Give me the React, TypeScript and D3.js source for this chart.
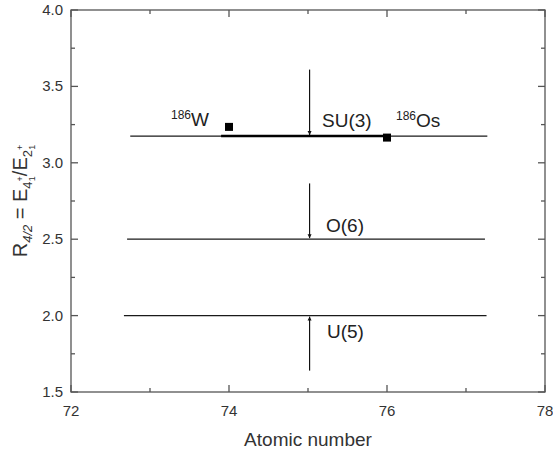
import React from "react";
import * as d3 from "d3";

const xTicks = [72, 74, 76, 78];
const xMinor = [73, 75, 77];
const yTicks = [1.5, 2.0, 2.5, 3.0, 3.5, 4.0];
const yMinor = [1.75, 2.25, 2.75, 3.25, 3.75];

// symmetry limit lines: [name, R4/2, xStart, xEnd]
const limitNames = ["SU(3)", "O(6)", "U(5)"];
const limitValues = [3.175, 2.5, 2.0];
const limitStarts = [72.75, 72.71, 72.67];
const limitEnds = [77.27, 77.24, 77.26];
const arrowFrom = [3.61, 2.865, 1.64];
const arrowX = 75.02;

// thick segment
const segX = [73.9, 76.0];
const segY = 3.175;

// data points
const nuclei = ["W", "Os"];
const nucleiZ = [74, 76];
const nucleiR = [3.235, 3.165];

export default function App() {
  const W = 553, H = 458;
  const L = 71, R = 545, T = 10, B = 392;
  const x = d3.scaleLinear().domain([72, 78]).range([L, R]);
  const y = d3.scaleLinear().domain([1.5, 4.0]).range([B, T]);
  const font = "'Liberation Sans', Arial, sans-serif";
  const axisColor = "#555";
  const textColor = "#333";

  return (
    <svg width={W} height={H} style={{ position: "absolute", left: 0, top: 0, background: "#fff" }} fontFamily={font}>
      <defs>
        <marker id="ah" viewBox="0 0 10 10" refX="10" refY="5" markerWidth="4" markerHeight="7" orient="auto" markerUnits="userSpaceOnUse">
          <path d="M0,0 L10,5 L0,10 z" fill="#111" />
        </marker>
      </defs>
      {/* frame */}
      <rect x={L} y={T} width={R - L} height={B - T} fill="none" stroke={axisColor} strokeWidth={1.3} />
      {/* x ticks */}
      {xTicks.map((t) => (
        <g key={"xt" + t}>
          <line x1={x(t)} x2={x(t)} y1={B} y2={B - 7} stroke={axisColor} strokeWidth={1.3} />
          <line x1={x(t)} x2={x(t)} y1={T} y2={T + 7} stroke={axisColor} strokeWidth={1.3} />
          <text x={x(t)} y={416} textAnchor="middle" fontSize={15} fill={textColor}>{t}</text>
        </g>
      ))}
      {xMinor.map((t) => (
        <g key={"xm" + t}>
          <line x1={x(t)} x2={x(t)} y1={B} y2={B - 4} stroke={axisColor} strokeWidth={1.3} />
          <line x1={x(t)} x2={x(t)} y1={T} y2={T + 4} stroke={axisColor} strokeWidth={1.3} />
        </g>
      ))}
      {yTicks.map((t) => (
        <g key={"yt" + t}>
          <line x1={L} x2={L + 7} y1={y(t)} y2={y(t)} stroke={axisColor} strokeWidth={1.3} />
          <line x1={R} x2={R - 7} y1={y(t)} y2={y(t)} stroke={axisColor} strokeWidth={1.3} />
          <text x={63} y={y(t) + 5} textAnchor="end" fontSize={15} fill={textColor}>{t.toFixed(1)}</text>
        </g>
      ))}
      {yMinor.map((t) => (
        <g key={"ym" + t}>
          <line x1={L} x2={L + 4} y1={y(t)} y2={y(t)} stroke={axisColor} strokeWidth={1.3} />
          <line x1={R} x2={R - 4} y1={y(t)} y2={y(t)} stroke={axisColor} strokeWidth={1.3} />
        </g>
      ))}
      {/* axis titles */}
      <text x={308} y={446} textAnchor="middle" fontSize={19} fill={textColor}>Atomic number</text>
      <g transform={`translate(27, ${y(2.75)}) rotate(-90)`}>
        <text textAnchor="middle" fontSize={20} fill={textColor}>
          <tspan>R</tspan>
          <tspan fontSize={13} dy={5} fontStyle="italic">4/2</tspan>
          <tspan dy={-5}> = E</tspan>
          <tspan fontSize={13} dy={5}>4</tspan>
          <tspan fontSize={9} dy={-9}>+</tspan>
          <tspan fontSize={9} dx={-5} dy={12}>1</tspan>
          <tspan dy={-8}>/E</tspan>
          <tspan fontSize={13} dy={5}>2</tspan>
          <tspan fontSize={9} dy={-9}>+</tspan>
          <tspan fontSize={9} dx={-5} dy={12}>1</tspan>
        </text>
      </g>
      {/* limit lines */}
      {limitNames.map((n, i) => (
        <g key={n}>
          <line x1={x(limitStarts[i])} x2={x(limitEnds[i])} y1={y(limitValues[i])} y2={y(limitValues[i])} stroke="#1a1a1a" strokeWidth={1.3} />
          <line x1={x(arrowX)} x2={x(arrowX)} y1={y(arrowFrom[i])} y2={y(limitValues[i]) + (arrowFrom[i] > limitValues[i] ? -1 : 1)} stroke="#111" strokeWidth={1.2} markerEnd="url(#ah)" />
        </g>
      ))}
      <line x1={x(segX[0])} x2={x(segX[1])} y1={y(segY)} y2={y(segY)} stroke="#000" strokeWidth={2.6} />
      {/* points */}
      {nuclei.map((n, i) => (
        <rect key={n} x={x(nucleiZ[i]) - 4} y={y(nucleiR[i]) - 4} width={8} height={8} fill="#000" />
      ))}
      {/* annotations */}
      <text x={322} y={127} fontSize={19} fill="#222">SU(3)</text>
      <text x={326} y={232} fontSize={19} fill="#222">O(6)</text>
      <text x={327} y={338} fontSize={19} fill="#222">U(5)</text>
      <text x={396} y={127} fontSize={19} fill="#222"><tspan fontSize={12} dy={-7}>186</tspan><tspan dy={7}>Os</tspan></text>
      <text x={171} y={126} fontSize={19} fill="#222"><tspan fontSize={12} dy={-7}>186</tspan><tspan dy={7}>W</tspan></text>
    </svg>
  );
}
